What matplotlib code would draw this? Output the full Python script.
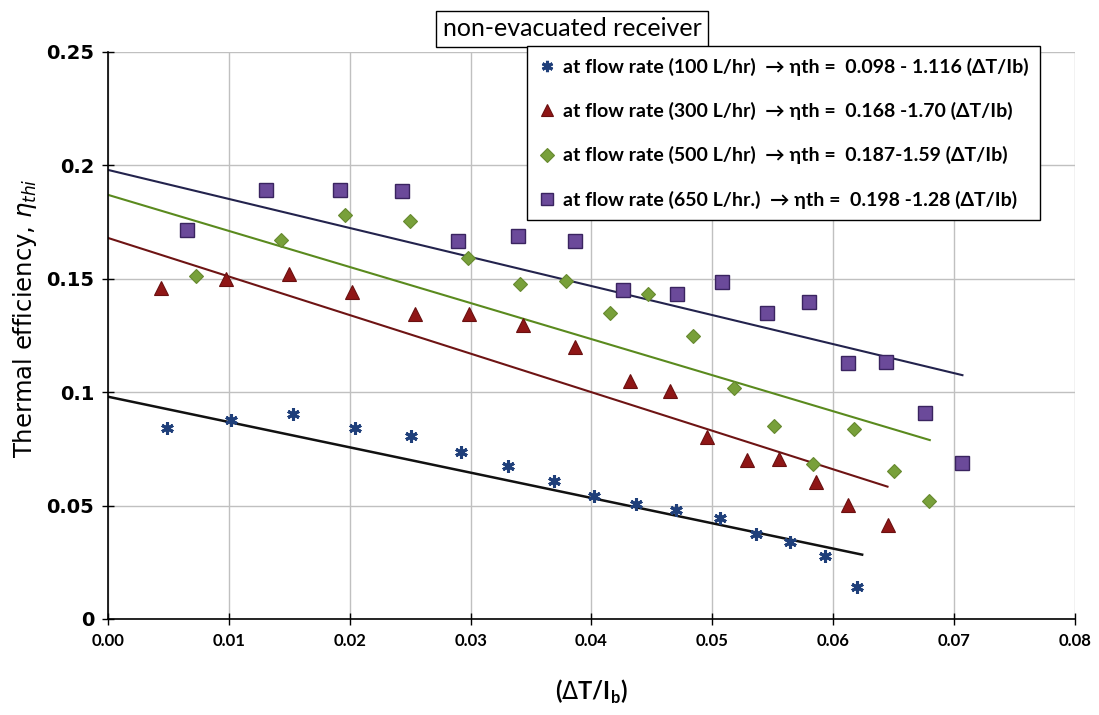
import matplotlib
matplotlib.use('Agg')
import matplotlib.pyplot as plt
import numpy as np

plt.rcParams['font.family'] = ['Lato', 'DejaVu Sans']
plt.rcParams['mathtext.fontset'] = 'custom'
plt.rcParams['mathtext.rm'] = 'DejaVu Sans'
plt.rcParams['mathtext.it'] = 'DejaVu Sans:italic'
plt.rcParams['mathtext.bf'] = 'Lato:bold'

# 100 L/hr
x100 = [0.0049, 0.0102, 0.0153, 0.0204, 0.0251, 0.0292, 0.0331, 0.0369, 0.0402,
        0.0437, 0.0470, 0.0506, 0.0536, 0.0564, 0.0593, 0.0620]
y100 = [0.0842, 0.0877, 0.0904, 0.0842, 0.0807, 0.0736, 0.0675, 0.0608, 0.0542,
        0.0507, 0.0481, 0.0445, 0.0375, 0.0340, 0.0278, 0.0141]
# 300 L/hr
x300 = [0.0044, 0.0098, 0.0150, 0.0202, 0.0254, 0.0299, 0.0343, 0.0386, 0.0432,
        0.0465, 0.0496, 0.0529, 0.0555, 0.0586, 0.0612, 0.0645]
y300 = [0.1460, 0.1500, 0.1521, 0.1442, 0.1345, 0.1345, 0.1294, 0.1199, 0.1050,
        0.1005, 0.0803, 0.0701, 0.0705, 0.0604, 0.0503, 0.0414]
# 500 L/hr
x500 = [0.0073, 0.0143, 0.0196, 0.0250, 0.0298, 0.0341, 0.0379, 0.0415, 0.0447,
        0.0484, 0.0518, 0.0551, 0.0583, 0.0617, 0.0650, 0.0679]
y500 = [0.1512, 0.1671, 0.1781, 0.1755, 0.1592, 0.1477, 0.1490, 0.1349, 0.1433,
        0.1248, 0.1019, 0.0851, 0.0683, 0.0838, 0.0653, 0.0520]
# 650 L/hr
x650 = [0.0065, 0.0131, 0.0192, 0.0243, 0.0290, 0.0339, 0.0386, 0.0426, 0.0471,
        0.0508, 0.0545, 0.0580, 0.0612, 0.0644, 0.0676, 0.0707]
y650 = [0.1715, 0.1892, 0.1892, 0.1887, 0.1667, 0.1689, 0.1667, 0.1451, 0.1433,
        0.1486, 0.1349, 0.1398, 0.1129, 0.1133, 0.0908, 0.0688]

# linear fits: eta = a - b*(dT/Ib), drawn up to the last point of each series
fit_a = [0.098, 0.168, 0.187, 0.198]
fit_b = [1.116, 1.70, 1.59, 1.28]
fit_xmax = [0.0624, 0.0645, 0.0680, 0.0707]

labels = [
    'at flow rate (100 L/hr)  \u2192 \u03b7th =  0.098 - 1.116 (\u0394T/Ib)',
    'at flow rate (300 L/hr)  \u2192 \u03b7th =  0.168 -1.70 (\u0394T/Ib)',
    'at flow rate (500 L/hr)  \u2192 \u03b7th =  0.187-1.59 (\u0394T/Ib)',
    'at flow rate (650 L/hr.)  \u2192 \u03b7th =  0.198 -1.28 (\u0394T/Ib)',
]

fig = plt.figure(figsize=(10.99, 7.15), dpi=100)
ax = fig.add_axes([0.0983, 0.1343, 0.8797, 0.7930])

ax.grid(True, color='#c0c0c0', lw=1)
ax.set_axisbelow(True)

line_cols = ['#111111', '#6e1414', '#5a8a1e', '#23234d']
for a, b, xm, c in zip(fit_a, fit_b, fit_xmax, line_cols):
    xs = np.array([0.0, xm])
    ax.plot(xs, a - b * xs, color=c, lw=1.8 if c == '#111111' else 1.5, zorder=2)

ax.plot(x100, y100, ls='none', marker=(6, 2, 0), ms=9, mew=2.2,
        color='#1f3f7a', label=labels[0], zorder=3)
ax.plot(x300, y300, ls='none', marker='^', ms=10, mfc='#8f1616',
        mec='#6a1010', mew=0.8, label=labels[1], zorder=3)
ax.plot(x500, y500, ls='none', marker='D', ms=7.5, mfc='#78a03a',
        mec='#66892f', mew=0.8, label=labels[2], zorder=3)
ax.plot(x650, y650, ls='none', marker='s', ms=10, mfc='#6b4a9a',
        mec='#3a2460', mew=1.0, label=labels[3], zorder=3)

ax.set_xlim(0, 0.08)
ax.set_ylim(0, 0.25)
ax.set_xticks(np.arange(0, 0.081, 0.01))
ax.set_yticks([0, 0.05, 0.1, 0.15, 0.2, 0.25])
ax.set_xticklabels(['%.2f' % v for v in np.arange(0, 0.081, 0.01)],
                   fontweight='bold', fontsize=12)
ax.set_yticklabels(['0', '0.05', '0.1', '0.15', '0.2', '0.25'],
                   fontweight='bold', fontsize=14, family='DejaVu Sans')
ax.tick_params(direction='inout', length=8, width=1, pad=6)

for s in ['top', 'right']:
    ax.spines[s].set_visible(False)
for s in ['left', 'bottom']:
    ax.spines[s].set_linewidth(1.2)

ax.set_ylabel(r'Thermal efficiency, $\eta_{thi}$', fontsize=17.5, family='DejaVu Sans')
ax.yaxis.set_label_coords(-0.071, 0.53)
ax.set_xlabel(r'($\Delta$T/I$_{\mathbf{b}}$)', fontsize=17, fontweight='bold')
ax.xaxis.set_label_coords(0.5, -0.103)

leg = fig.legend(loc='upper left', bbox_to_anchor=(0.4795, 0.9357),
                 prop={'weight': 'bold', 'size': 14}, frameon=True,
                 fancybox=False, edgecolor='black', framealpha=1,
                 labelspacing=1.35, handletextpad=0.35, handlelength=0.9,
                 borderpad=0.6, borderaxespad=0, markerscale=0.9)
leg.get_frame().set_linewidth(1.0)

fig.text(572 / 1099, 1 - 29 / 715, 'non-evacuated receiver', fontsize=18,
         ha='center', va='center',
         bbox=dict(boxstyle='square,pad=0.25', fc='white', ec='black', lw=1))

fig.savefig('out.png', dpi=100)
